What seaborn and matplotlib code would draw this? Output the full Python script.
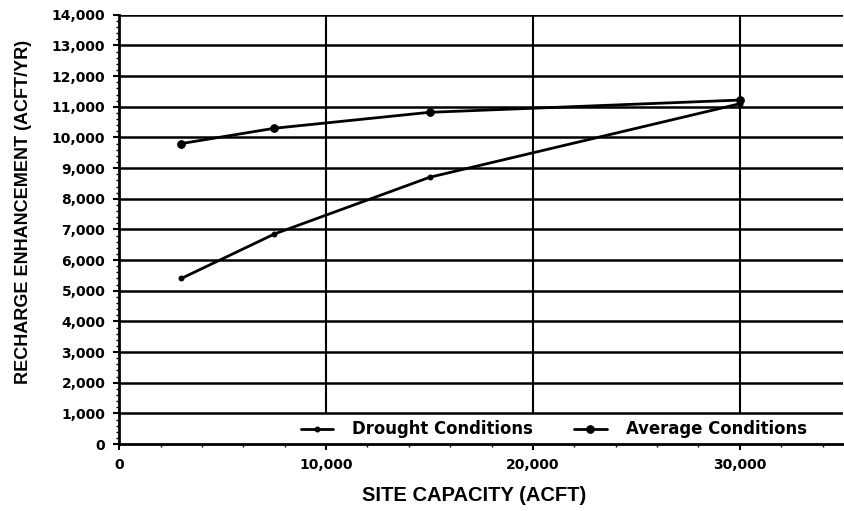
import matplotlib
matplotlib.use("Agg")
import matplotlib.pyplot as plt
import seaborn as sns
import pandas as pd
from matplotlib.ticker import MultipleLocator, FuncFormatter, FixedLocator

capacity = [3000, 7500, 15000, 30000]
drought = [5400, 6850, 8700, 11100]
average = [9800, 10300, 10820, 11220]
series_names = ["Drought Conditions", "Average Conditions"]

df = pd.DataFrame({
    "capacity": capacity * 2,
    "recharge": drought + average,
    "series": [series_names[0]] * len(capacity) + [series_names[1]] * len(capacity),
})

sns.set_style("white")
plt.rcParams['font.family'] = ['Liberation Sans', 'DejaVu Sans']
plt.rcParams['text.color'] = 'black'
plt.rcParams['axes.labelcolor'] = 'black'

fig = plt.figure(figsize=(8.45, 5.11), dpi=100)
ax = fig.add_axes([0.141, 0.131, 0.857, 0.84])

ax.set_xlim(0, 35000)
ax.set_ylim(0, 14000)

ax.yaxis.set_major_locator(MultipleLocator(1000))
ax.yaxis.set_minor_locator(MultipleLocator(200))
ax.xaxis.set_major_locator(FixedLocator([0, 10000, 20000, 30000]))
ax.xaxis.set_minor_locator(MultipleLocator(2000))
for yv in range(1000, 14001, 1000):
    ax.axhline(yv, color="black", lw=1.8, zorder=1)
# vertical grid lines stop at the legend band (0-1000)
ax.vlines([10000, 20000, 30000], 1000, 14000, color="black", lw=1.5, zorder=1)

sns.lineplot(data=df[df.series == series_names[0]], x="capacity", y="recharge",
             ax=ax, color="black", lw=2, marker="o", markersize=3.5,
             markeredgecolor="black", label=series_names[0], zorder=3)
sns.lineplot(data=df[df.series == series_names[1]], x="capacity", y="recharge",
             ax=ax, color="black", lw=2, marker="o", markersize=5.5,
             markeredgecolor="black", label=series_names[1], zorder=3)

fmt = FuncFormatter(lambda v, p: f"{int(v):,}")
ax.yaxis.set_major_formatter(fmt)
ax.xaxis.set_major_formatter(fmt)

for s in ["top", "right"]:
    ax.spines[s].set_visible(False)
for s in ["left", "bottom"]:
    ax.spines[s].set_linewidth(2)
    ax.spines[s].set_color("black")

ax.tick_params(axis="both", which="major", direction="out", length=4, width=1.5,
               labelsize=10, pad=6, colors="black")
ax.tick_params(axis="both", which="minor", direction="out", length=2.5, width=1, colors="black")
ax.tick_params(axis="both", which="both", left=True, bottom=True)
for lab in ax.get_xticklabels() + ax.get_yticklabels():
    lab.set_fontweight("bold")
    lab.set_fontfamily("DejaVu Sans")

ax.set_xlabel("SITE CAPACITY (ACFT)", fontsize=14.5, fontweight="bold", color="black")
ax.set_ylabel("RECHARGE ENHANCEMENT (ACFT/YR)", fontsize=13, fontweight="bold", color="black")
ax.yaxis.set_label_coords(-0.12, 0.54)
ax.xaxis.set_label_coords(0.49, -0.098)

leg = ax.legend(loc="center left", bbox_to_anchor=(0.251, 0.034),
                ncol=2, frameon=False,
                prop={"weight": "bold", "size": 11.9, "family": "DejaVu Sans"},
                handlelength=1.95, columnspacing=2.5, borderpad=0.0, handletextpad=1.15,
                borderaxespad=0.0)
for t in leg.get_texts():
    t.set_color("black")

fig.savefig("out.png", dpi=100)
